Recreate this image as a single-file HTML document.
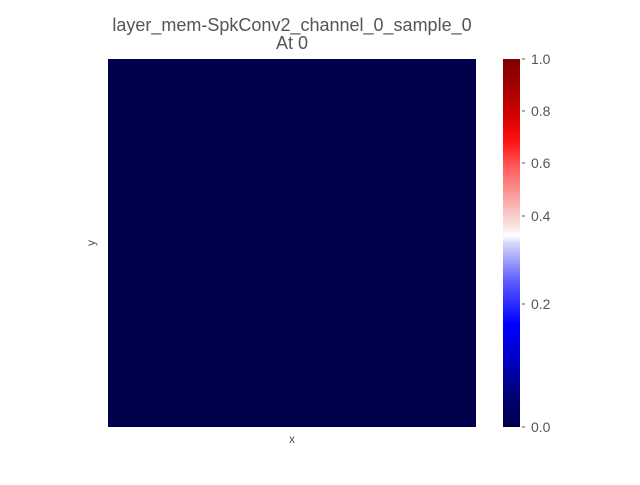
<!DOCTYPE html>
<html><head><meta charset="utf-8"><style>
body{margin:0;background:#fff;width:640px;height:480px;overflow:hidden;font-family:"Liberation Sans",sans-serif}
</style></head><body>
<svg width="640" height="480">
<text x="292" y="31" text-anchor="middle" font-size="18" fill="#555">layer_mem-SpkConv2_channel_0_sample_0</text>
<text x="292" y="49" text-anchor="middle" font-size="18" fill="#555">At 0</text>
<g id="heat"></g>
<text x="292" y="443" text-anchor="middle" font-size="12" fill="#555">x</text>
<text x="95" y="243" text-anchor="middle" font-size="12" fill="#555" transform="rotate(-90 95 243)">y</text>
<defs><linearGradient id="cb" x1="0" y1="1" x2="0" y2="0">
<stop offset="0" stop-color="#00004c"/><stop offset="0.08" stop-color="#000070"/><stop offset="0.2" stop-color="#0000d0"/><stop offset="0.28" stop-color="#0000ff"/><stop offset="0.4" stop-color="#6060ff"/><stop offset="0.5" stop-color="#d8d8f8"/><stop offset="0.52" stop-color="#ffffff"/><stop offset="0.55" stop-color="#f8e0e0"/><stop offset="0.7" stop-color="#ff6060"/><stop offset="0.78" stop-color="#ff1010"/><stop offset="0.85" stop-color="#d00000"/><stop offset="0.93" stop-color="#a00000"/><stop offset="1" stop-color="#800000"/>
</linearGradient></defs>
<rect x="503" y="59" width="17" height="368" fill="url(#cb)"/>
<g id="cbticks"></g>
</svg>
<script>
const cellValues=[[0]];
const cbTickLabels=["0.0","0.2","0.4","0.6","0.8","1.0"];
const cbTickPos=[0,0.2,0.4,0.6,0.8,1.0];
const cbTickY=[427,304,216,163,111,59];
const NS="http://www.w3.org/2000/svg";
function color(v){const a=Math.max(0,Math.min(1,v));
 if(a<0.5){const t=a/0.5;return `rgb(${Math.round(255*Math.max(0,t*2-1))},${Math.round(255*Math.max(0,t*2-1))},${Math.round(76+179*Math.min(1,t*2))})`;}
 const t=(a-0.5)/0.5;return `rgb(${Math.round(255-127*Math.max(0,t*2-1))},${Math.round(255*Math.max(0,1-t*2))},${Math.round(255*Math.max(0,1-t*2))})`;}
const heat=document.getElementById('heat');
const X0=108,Y0=59,W=368,H=368;
const rows=cellValues.length,cols=cellValues[0].length;
cellValues.forEach((row,i)=>row.forEach((v,j)=>{
 const r=document.createElementNS(NS,'rect');
 r.setAttribute('x',X0+j*W/cols);r.setAttribute('y',Y0+i*H/rows);
 r.setAttribute('width',W/cols);r.setAttribute('height',H/rows);
 r.setAttribute('fill',color(v));
 
 
 heat.appendChild(r);}));
const cbt=document.getElementById('cbticks');
cbTickLabels.forEach((lab,i)=>{
 const y=cbTickY[i];
 const l=document.createElementNS(NS,'line');
 l.setAttribute('x1',522);l.setAttribute('x2',525);l.setAttribute('y1',y);l.setAttribute('y2',y);l.setAttribute('stroke','#555');
 
 
 cbt.appendChild(l);
 const t=document.createElementNS(NS,'text');
 t.setAttribute('x',531);t.setAttribute('y',y+5);t.setAttribute('font-size','14');t.setAttribute('fill','#555');
 t.textContent=lab;
 
 
 cbt.appendChild(t);});
</script>
</body></html>
